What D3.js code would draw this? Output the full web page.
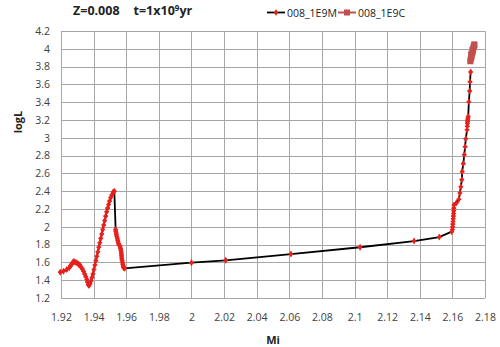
<!DOCTYPE html>
<html><head><meta charset="utf-8">
<script src="https://cdn.jsdelivr.net/npm/d3@7"></script>
<style>body{margin:0;background:#fff;}svg{display:block;font-family:"Open Sans","Noto Sans",sans-serif;}</style>
</head><body>
<svg id="c" width="500" height="347"></svg>
<script>
const xTicks = [1.92,1.94,1.96,1.98,2,2.02,2.04,2.06,2.08,2.1,2.12,2.14,2.16,2.18];
const yTicks = [1.2,1.4,1.6,1.8,2,2.2,2.4,2.6,2.8,3,3.2,3.4,3.6,3.8,4,4.2];
const seriesNames = ["008_1E9M","008_1E9C"];
const massM = [1.9195,1.9215,1.9235,1.9250,1.9258,1.9265,1.9272,1.9278,1.9285,1.9292,1.9300,1.9308,1.9315,1.9322,1.9330,1.9338,1.9345,1.9352,1.9358,1.9362,1.9367,1.9372,1.9378,1.9384,1.9390,1.9396,1.9402,1.9408,1.9414,1.9420,1.9426,1.9432,1.9438,1.9444,1.9450,1.9456,1.9462,1.9468,1.9474,1.9480,1.9486,1.9492,1.9498,1.9505,1.9512,1.9520,1.9527,
1.9535,1.9536,1.9538,1.9540,1.9542,1.9545,1.9548,1.9550,1.9553,1.9556,1.9562,1.9565,1.9567,1.9569,1.9570,1.9571,1.9572,1.9573,1.9575,1.9577,1.9579,1.9581,1.9584,1.9590,
2.000,2.021,2.061,2.1034,2.1365,2.152,2.1596,
2.1600,2.1602,2.1603,2.1604,2.1605,2.1606,2.1607,2.1608,2.1609,2.1610,2.1625,2.1640,2.1646,2.1652,2.1658,2.1660,2.1667,2.1673,2.1678,2.1682,2.1690,2.1691,2.1692,2.1693,2.1694,2.1695,2.1697,2.1701,2.1706,2.1708,2.1712];
const logLM = [1.49,1.50,1.52,1.54,1.56,1.58,1.60,1.61,1.605,1.60,1.59,1.58,1.57,1.55,1.53,1.50,1.47,1.44,1.41,1.38,1.35,1.34,1.36,1.39,1.43,1.47,1.52,1.57,1.62,1.67,1.72,1.77,1.82,1.87,1.92,1.97,2.02,2.07,2.12,2.17,2.21,2.25,2.29,2.33,2.36,2.39,2.40,
1.97,1.95,1.93,1.91,1.89,1.87,1.85,1.83,1.81,1.795,1.78,1.76,1.74,1.72,1.70,1.68,1.66,1.64,1.62,1.60,1.58,1.56,1.54,1.533,
1.597,1.623,1.694,1.77,1.84,1.885,1.945,
1.97,2.00,2.03,2.06,2.09,2.12,2.15,2.18,2.21,2.245,2.27,2.31,2.38,2.45,2.53,2.62,2.71,2.81,2.90,2.99,3.09,3.13,3.16,3.18,3.20,3.22,3.24,3.405,3.526,3.63,3.74,3.84];
const massC = [2.1710,2.1712,2.1716,2.1718,2.1715,2.1722,2.1725,2.1723,2.1728,2.1730,2.1732,2.1735,2.1734];
const logLC = [3.86,3.88,3.90,3.92,3.94,3.95,3.97,3.99,4.00,4.02,4.03,4.04,4.05];

const svg = d3.select("#c");
const L=61,R=485,T=31,B=298;
const x = d3.scaleLinear().domain([1.92,2.18]).range([L,R]);
const y = d3.scaleLinear().domain([1.2,4.2]).range([B,T]);

// grid
const g = svg.append("g");
g.selectAll(".vx").data(xTicks).enter().append("line")
 .attr("x1",d=>Math.round(x(d))+0.5).attr("x2",d=>Math.round(x(d))+0.5).attr("y1",T).attr("y2",B)
 .attr("stroke","#a6a6a6").attr("stroke-width",1);
g.selectAll(".hy").data(yTicks).enter().append("line")
 .attr("y1",d=>Math.round(y(d))+0.5).attr("y2",d=>Math.round(y(d))+0.5).attr("x1",L).attr("x2",R)
 .attr("stroke","#a6a6a6").attr("stroke-width",1);

// axes labels via d3 axes
const xa = svg.append("g").attr("transform",`translate(0,${B})`)
 .call(d3.axisBottom(x).tickValues(xTicks).tickFormat(d=>String(+d.toFixed(2))).tickSize(0).tickPadding(16));
xa.select(".domain").remove();
xa.selectAll("text").attr("font-size",10.5).attr("fill","#404040").attr("font-family","Open Sans, sans-serif");
const ya = svg.append("g").attr("transform",`translate(${L},0)`)
 .call(d3.axisLeft(y).tickValues(yTicks).tickFormat(d=>String(+d.toFixed(1))).tickSize(0).tickPadding(11));
ya.select(".domain").remove();
ya.selectAll("text").attr("font-size",10.5).attr("fill","#404040").attr("font-family","Open Sans, sans-serif");

// series M
const ptsM = massM.map((m,i)=>[m,logLM[i]]);
const ptsC = massC.map((m,i)=>[m,logLC[i]]);
const line = d3.line().x(d=>x(d[0])).y(d=>y(d[1]));
svg.append("path").datum(ptsM).attr("d",line).attr("fill","none").attr("stroke","#000").attr("stroke-width",1.8);
const star = d3.symbol().type(d3.symbolDiamond).size(14);
svg.append("g").selectAll("path").data(ptsM).enter().append("path")
 .attr("d",star).attr("transform",d=>`translate(${x(d[0])},${y(d[1])})`).attr("fill","#e8201c");
svg.append("g").selectAll("path").data(ptsM).enter().append("path")
 .attr("d",d3.symbol().type(d3.symbolCross).size(12)).attr("transform",d=>`translate(${x(d[0])},${y(d[1])})`).attr("fill","#e8201c");

// series C
svg.append("path").datum(ptsC).attr("d",line).attr("fill","none").attr("stroke","#c0504d").attr("stroke-width",2);
svg.append("g").selectAll("rect").data(ptsC).enter().append("rect")
 .attr("x",d=>x(d[0])-3).attr("y",d=>y(d[1])-3).attr("width",6).attr("height",6).attr("fill","#c0504d");

// title
svg.append("text").attr("x",73).attr("y",15).attr("font-size",12.5).attr("font-weight","bold").attr("fill","#222")
 .html('Z=0.008<tspan dx="14">t=1x10</tspan><tspan dy="-4" font-size="8">9</tspan><tspan dy="4">yr</tspan>');

// legend
const lg = svg.append("g");
lg.append("line").attr("x1",267).attr("x2",285).attr("y1",12.5).attr("y2",12.5).attr("stroke","#000").attr("stroke-width",1.8);
lg.append("path").attr("d",star).attr("transform","translate(276,12.5)").attr("fill","#e8201c");
lg.append("text").attr("x",287).attr("y",16.5).attr("font-size",10.5).attr("fill","#222").text(seriesNames[0]);
lg.append("line").attr("x1",338).attr("x2",356).attr("y1",12.5).attr("y2",12.5).attr("stroke","#c0504d").attr("stroke-width",2);
lg.append("rect").attr("x",344).attr("y",9.5).attr("width",6).attr("height",6).attr("fill","#c0504d");
lg.append("text").attr("x",358).attr("y",16.5).attr("font-size",10.5).attr("fill","#222").text(seriesNames[1]);

// axis titles
svg.append("text").attr("x",273).attr("y",344).attr("text-anchor","middle").attr("font-size",11).attr("font-weight","bold").attr("fill","#222").text("Mi");
svg.append("text").attr("transform","translate(22,122) rotate(-90)").attr("text-anchor","middle").attr("font-size",11).attr("font-weight","bold").attr("fill","#222").text("logL");
</script>
</body></html>
